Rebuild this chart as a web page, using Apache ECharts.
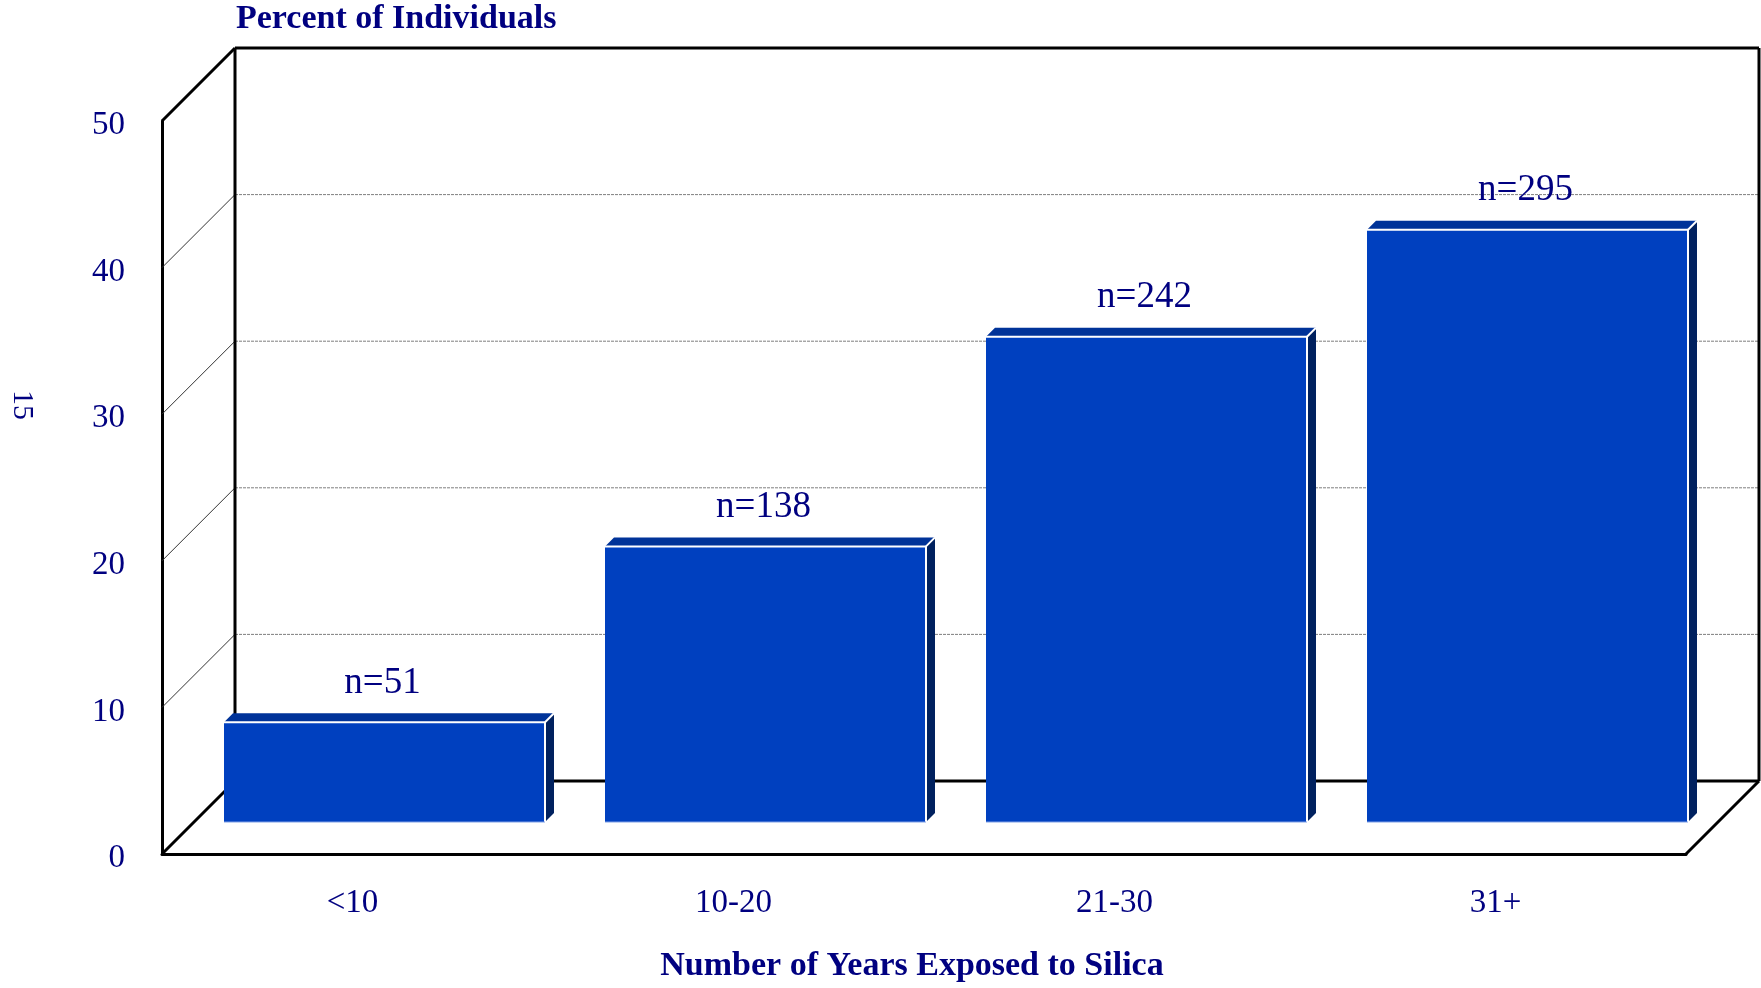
<!DOCTYPE html>
<html>
<head>
<meta charset="utf-8">
<script src="https://cdn.jsdelivr.net/npm/echarts@6/dist/echarts.min.js"></script>
<style>
html,body{margin:0;padding:0;background:#fff;}
#chart{width:1761px;height:988px;}
</style>
</head>
<body>
<div id="chart"></div>
<script>
// ---- data ----
var categories = ['<10', '10-20', '21-30', '31+'];
var percentValues = [6.8, 18.8, 33.1, 40.4];
var sampleLabels = ['n=51', 'n=138', 'n=242', 'n=295'];
var yTicks = [0, 10, 20, 30, 40, 50];

var FONT = 'Liberation Serif';
var NAVY = '#000080';
var WALL_DEPTH = 73;   // px offset of back wall
var BAR_DEPTH = 32;    // px offset of bar front plane
var BAR_THICK = 9;     // px depth of bar box

var chart = echarts.init(document.getElementById('chart'));

function renderWalls(params, api) {
  var cs = params.coordSys;
  var x0 = cs.x, x1 = cs.x + cs.width;
  var D = WALL_DEPTH;
  var yMin = api.coord([0, yTicks[0]])[1];
  var yMax = api.coord([0, yTicks[yTicks.length - 1]])[1];
  var thick = {stroke: '#000', lineWidth: 3};
  var children = [];
  function line(a, b, c, d, style) {
    children.push({type: 'line', shape: {x1: a, y1: b, x2: c, y2: d}, style: style});
  }
  for (var i = 1; i < yTicks.length - 1; i++) {
    var y = api.coord([0, yTicks[i]])[1];
    line(x0 + D, y - D, x1 + D, y - D, {stroke: '#7f7f7f', lineWidth: 1, lineDash: [3, 1]});
    line(x0, y, x0 + D, y - D, {stroke: '#333333', lineWidth: 1});
  }
  line(x0, yMax, x0 + D, yMax - D, thick);
  line(x0 + D, yMax - D, x0 + D, yMin - D, thick);
  line(x0 + D, yMax - D, x1 + D, yMax - D, thick);
  line(x1 + D, yMax - D, x1 + D, yMin - D, thick);
  line(x0 + D, yMin - D, x1 + D, yMin - D, thick);
  line(x0, yMin, x0 + D, yMin - D, thick);
  line(x1, yMin, x1 + D, yMin - D, thick);
  return {type: 'group', children: children};
}

function renderBar(params, api) {
  var idx = api.value(0);
  var top = api.coord([idx, api.value(1)]);
  var base = api.coord([idx, 0]);
  var bandW = api.size([1, 0])[0];
  var w = bandW * 0.8425;
  var d = BAR_DEPTH, k = BAR_THICK;
  var L = top[0] - w / 2 + d, R = top[0] + w / 2 + d;
  var T = top[1] - d, B = base[1] - d;
  return {
    type: 'group',
    children: [
      {type: 'polygon', shape: {points: [[L, T], [L + k, T - k], [R + k, T - k], [R, T]]}, style: {fill: '#003399'}},
      {type: 'polygon', shape: {points: [[R, T], [R + k, T - k], [R + k, B - k], [R, B]]}, style: {fill: '#00215f'}},
      {type: 'rect', shape: {x: L, y: T, width: w, height: B - T}, style: {fill: '#0040bf'}},
      {type: 'polyline', shape: {points: [[L, T], [R, T], [R, B]]}, style: {stroke: '#ffffff', lineWidth: 2, fill: null}},
      {type: 'line', shape: {x1: R, y1: T, x2: R + k, y2: T - k}, style: {stroke: '#ffffff', lineWidth: 2}},
      {type: 'line', shape: {x1: L, y1: B, x2: R, y2: B}, style: {stroke: '#7f9fe6', lineWidth: 1}},
      {type: 'text', style: {text: sampleLabels[idx], x: (L + R) / 2 - 2, y: T - k - 30, align: 'center', verticalAlign: 'middle',
        font: '37px "' + FONT + '"', fill: NAVY}}
    ]
  };
}

var option = {
  animation: false,
  backgroundColor: '#ffffff',
  title: {
    text: 'Percent of Individuals',
    left: 236, top: 2, padding: 0,
    textStyle: {fontFamily: FONT, fontSize: 34, fontWeight: 'bold', color: NAVY, lineHeight: 34}
  },
  graphic: [{
    type: 'text', x: 22, y: 405, rotation: -Math.PI / 2,
    style: {text: '15', font: '30px "' + FONT + '"', fill: NAVY, align: 'center', verticalAlign: 'middle'}
  }],
  grid: {left: 162, right: 75, top: 121, bottom: 132, containLabel: false},
  xAxis: {
    type: 'category',
    data: categories,
    axisLine: {show: true, lineStyle: {color: '#000', width: 3}},
    axisTick: {show: false},
    axisLabel: {fontFamily: FONT, fontSize: 33, color: NAVY, margin: 33},
    name: 'Number of Years Exposed to Silica',
    nameLocation: 'middle',
    nameGap: 95,
    nameTextStyle: {fontFamily: FONT, fontSize: 34, fontWeight: 'bold', color: NAVY, padding: [0, 24, 0, 0]}
  },
  yAxis: {
    type: 'value',
    min: yTicks[0], max: yTicks[yTicks.length - 1], interval: 10,
    axisLine: {show: true, lineStyle: {color: '#000', width: 3}},
    axisTick: {show: false},
    splitLine: {show: false},
    axisLabel: {
      margin: 37,
      formatter: '{t|{value}}',
      rich: {t: {fontFamily: FONT, fontSize: 33, color: NAVY, lineHeight: 33, padding: [9, 0, 0, 0]}}
    }
  },
  series: [
    {type: 'custom', z: 1, renderItem: renderWalls, data: [[0, 0]], silent: true},
    {type: 'custom', z: 3, renderItem: renderBar, data: percentValues.map(function (v, i) { return [i, v]; })}
  ]
};
chart.setOption(option);
</script>
</body>
</html>
